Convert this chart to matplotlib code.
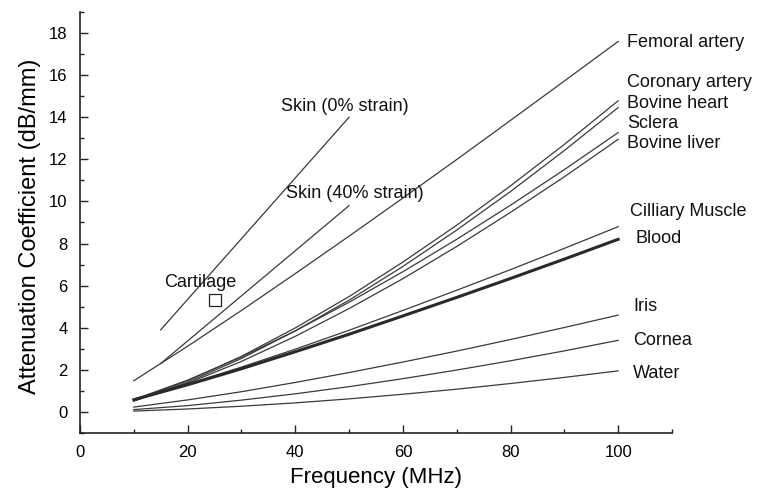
import matplotlib
matplotlib.use("Agg")
import matplotlib.pyplot as plt
from matplotlib.ticker import MultipleLocator

plt.rcParams["font.family"] = ["Liberation Sans", "DejaVu Sans"]

freq = [10, 20, 30, 40, 50, 60, 70, 80, 90, 100]

# attenuation (dB/mm)
femoral = [1.48, 3.12, 4.82, 6.57, 8.35, 10.16, 11.99, 13.85, 15.72, 17.6]
coronary = [0.55, 1.48, 2.64, 3.99, 5.48, 7.12, 8.87, 10.74, 12.71, 14.78]
bovine_heart = [0.52, 1.41, 2.54, 3.85, 5.31, 6.91, 8.64, 10.47, 12.42, 14.46]
sclera = [0.59, 1.51, 2.61, 3.85, 5.21, 6.66, 8.20, 9.82, 11.51, 13.27]
bovine_liver = [0.52, 1.36, 2.40, 3.59, 4.91, 6.33, 7.86, 9.48, 11.17, 12.95]
ciliary = [0.58, 1.32, 2.13, 2.98, 3.88, 4.82, 5.78, 6.76, 7.77, 8.8]
blood = [0.58, 1.29, 2.05, 2.86, 3.69, 4.56, 5.44, 6.34, 7.26, 8.2]
iris = [0.23, 0.57, 0.96, 1.40, 1.87, 2.37, 2.89, 3.44, 4.01, 4.6]
cornea = [0.11, 0.30, 0.56, 0.86, 1.20, 1.58, 1.99, 2.43, 2.90, 3.4]
water = [0.04, 0.14, 0.27, 0.43, 0.62, 0.84, 1.08, 1.35, 1.64, 1.95]

skin_freq = [15, 50]
skin_0 = [3.9, 14.0]
skin_40 = [2.3, 9.8]

cartilage_f = [25]
cartilage_a = [5.3]

# label text and its (x, y) anchor in data units
right_labels = [
    ("Femoral artery", 101.7, 17.57),
    ("Coronary artery", 101.7, 15.67),
    ("Bovine heart", 101.7, 14.67),
    ("Sclera", 101.7, 13.71),
    ("Bovine liver", 101.7, 12.76),
    ("Cilliary Muscle", 102.2, 9.52),
    ("Blood", 103.2, 8.24),
    ("Iris", 102.8, 5.0),
    ("Cornea", 102.8, 3.38),
    ("Water", 102.8, 1.81),
]
inner_labels = [
    ("Skin (0% strain)", 37.4, 14.5),
    ("Skin (40% strain)", 38.3, 10.4),
    ("Cartilage", 15.6, 6.14),
]

LINE = "#3a3a3a"

fig = plt.figure(figsize=(7.58, 4.95), dpi=100)
ax = fig.add_axes([0.1055, 0.1253, 0.781, 0.8505])

for ys in [femoral, coronary, bovine_heart, sclera, bovine_liver,
           ciliary, iris, cornea, water]:
    ax.plot(freq, ys, color=LINE, lw=0.9)
ax.plot(freq, blood, color="#2a2a2a", lw=2.2)
ax.plot(skin_freq, skin_0, color=LINE, lw=0.9)
ax.plot(skin_freq, skin_40, color=LINE, lw=0.9)
ax.plot(cartilage_f, cartilage_a, ls="none", marker="s", ms=8,
        mfc="none", mec="#222222", mew=0.9)

for txt, x, y in right_labels + inner_labels:
    ax.text(x, y, txt, fontsize=13, ha="left", va="center", color="#111111",
            clip_on=False)

ax.set_xlim(0, 110)
ax.set_ylim(-1, 19)
ax.xaxis.set_minor_locator(MultipleLocator(10))
ax.yaxis.set_minor_locator(MultipleLocator(1))
ax.set_xticks([0, 20, 40, 60, 80, 100])
ax.set_yticks([0, 2, 4, 6, 8, 10, 12, 14, 16, 18])

ax.spines["top"].set_visible(False)
ax.spines["right"].set_visible(False)
for s in ("left", "bottom"):
    ax.spines[s].set_linewidth(1.2)
    ax.spines[s].set_color("#222222")

ax.tick_params(which="both", direction="in", color="#222222", width=1.0)
ax.tick_params(which="major", length=6, labelsize=12, pad=9)
ax.tick_params(which="minor", length=3)

ax.set_xlabel("Frequency (MHz)", fontsize=16)
ax.set_ylabel("Attenuation Coefficient (dB/mm)", fontsize=17)
ax.xaxis.set_label_coords(0.5, -0.081)
ax.yaxis.set_label_coords(-0.066, 0.49)

fig.savefig("out.png", dpi=100)
